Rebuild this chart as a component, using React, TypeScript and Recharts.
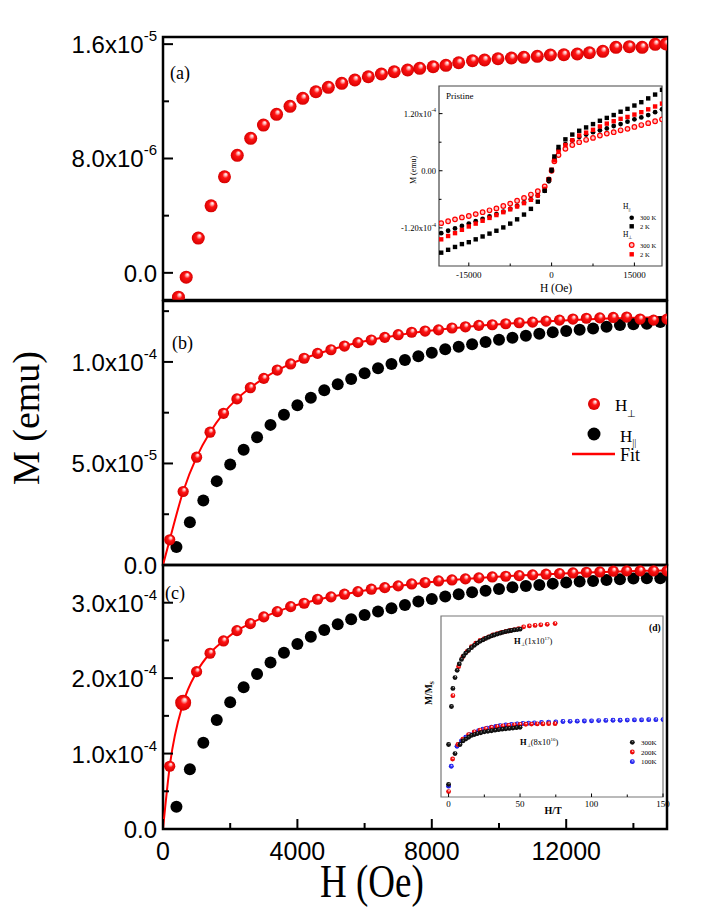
import React from 'react';
import { ScatterChart, Scatter, XAxis, YAxis, ReferenceArea } from 'recharts';

const SANS = '"Liberation Sans", Arial, sans-serif';
const SERIF = '"Liberation Serif", "Times New Roman", serif';

// ---- panel (a): pristine, H perpendicular ----
const aH = [460, 690, 1050, 1430, 1830, 2210, 2610, 2990, 3380, 3780, 4160, 4550, 4920, 5320, 5710, 6110, 6500, 6880, 7280, 7640,
  8040, 8420, 8800, 9210, 9570, 9970, 10370, 10740, 11140, 11530, 11930, 12330, 12690, 13090, 13480, 13880, 14260, 14650, 14970];
const aM = [-1.70e-6, -0.30e-6, 2.43e-6, 4.69e-6, 6.72e-6, 8.22e-6, 9.41e-6, 10.34e-6, 11.09e-6, 11.65e-6, 12.21e-6, 12.67e-6, 12.98e-6,
  13.26e-6, 13.49e-6, 13.72e-6, 13.91e-6, 14.07e-6, 14.19e-6, 14.31e-6, 14.42e-6, 14.52e-6, 14.70e-6, 14.84e-6, 14.89e-6, 14.98e-6,
  15.03e-6, 15.08e-6, 15.15e-6, 15.24e-6, 15.26e-6, 15.31e-6, 15.40e-6, 15.50e-6, 15.78e-6, 15.82e-6, 15.78e-6, 15.99e-6, 16.01e-6];
const aYTicks = [0, 4e-6, 8e-6, 1.2e-5, 1.6e-5];
const aYLabels = [['0.0'], null, ['8.0x10', '-6'], null, ['1.6x10', '-5']];

// ---- panel (b) ----
const bPerpH = [200, 600, 1000, 1400, 1800, 2200, 2600, 3000, 3400, 3800, 4200, 4600, 5000, 5400, 5800, 6200, 6600, 7000, 7400,
  7800, 8200, 8600, 9000, 9400, 9800, 10200, 10600, 11000, 11400, 11800, 12200, 12600, 13000, 13400, 13800, 14200, 14600, 15000];
const bPerpM = [1.24e-5, 3.62e-5, 5.31e-5, 6.54e-5, 7.47e-5, 8.18e-5, 8.73e-5, 9.19e-5, 9.60e-5, 9.90e-5, 1.018e-4, 1.042e-4,
  1.060e-4, 1.078e-4, 1.095e-4, 1.108e-4, 1.121e-4, 1.134e-4, 1.146e-4, 1.152e-4, 1.158e-4, 1.167e-4, 1.173e-4, 1.180e-4, 1.183e-4,
  1.188e-4, 1.193e-4, 1.196e-4, 1.201e-4, 1.206e-4, 1.211e-4, 1.215e-4, 1.217e-4, 1.219e-4, 1.221e-4, 1.211e-4, 1.206e-4, 1.211e-4];
const bParH = [400, 800, 1200, 1600, 2000, 2400, 2800, 3200, 3600, 4000, 4400, 4800, 5200, 5600, 6000, 6400, 6800, 7200, 7600,
  8000, 8400, 8800, 9200, 9600, 10000, 10400, 10800, 11200, 11600, 12000, 12400, 12800, 13200, 13600, 14000, 14400, 14800];
const bParM = [8.85e-6, 2.11e-5, 3.18e-5, 4.13e-5, 4.95e-5, 5.67e-5, 6.29e-5, 6.90e-5, 7.40e-5, 7.87e-5, 8.24e-5, 8.60e-5, 8.90e-5,
  9.16e-5, 9.44e-5, 9.69e-5, 9.90e-5, 1.009e-4, 1.028e-4, 1.045e-4, 1.062e-4, 1.075e-4, 1.087e-4, 1.098e-4, 1.109e-4, 1.119e-4,
  1.129e-4, 1.139e-4, 1.146e-4, 1.152e-4, 1.158e-4, 1.165e-4, 1.173e-4, 1.182e-4, 1.185e-4, 1.188e-4, 1.196e-4];
const fitH = [0, ...bPerpH];
const bFitM = [0, 1.24e-5, 3.62e-5, 5.31e-5, 6.54e-5, 7.47e-5, 8.18e-5, 8.73e-5, 9.19e-5, 9.58e-5, 9.90e-5, 1.017e-4, 1.040e-4,
  1.060e-4, 1.078e-4, 1.094e-4, 1.108e-4, 1.121e-4, 1.132e-4, 1.142e-4, 1.151e-4, 1.159e-4, 1.166e-4, 1.172e-4, 1.178e-4, 1.183e-4,
  1.188e-4, 1.192e-4, 1.196e-4, 1.200e-4, 1.203e-4, 1.206e-4, 1.209e-4, 1.212e-4, 1.214e-4, 1.216e-4, 1.218e-4, 1.220e-4, 1.222e-4];
const bYTicks = [0, 2.5e-5, 5e-5, 7.5e-5, 1e-4, 1.25e-4];
const bYLabels = [['0.0'], null, ['5.0x10', '-5'], null, ['1.0x10', '-4'], null];

// ---- panel (c) ----
const cPerpM = [8.32e-5, 1.675e-4, 2.086e-4, 2.330e-4, 2.493e-4, 2.630e-4, 2.723e-4, 2.812e-4, 2.882e-4, 2.948e-4, 2.993e-4,
  3.046e-4, 3.077e-4, 3.113e-4, 3.147e-4, 3.179e-4, 3.200e-4, 3.223e-4, 3.249e-4, 3.267e-4, 3.289e-4, 3.302e-4, 3.316e-4, 3.329e-4,
  3.342e-4, 3.351e-4, 3.359e-4, 3.369e-4, 3.378e-4, 3.386e-4, 3.395e-4, 3.404e-4, 3.408e-4, 3.418e-4, 3.422e-4, 3.422e-4, 3.422e-4, 3.422e-4];
const cParM = [2.96e-5, 7.92e-5, 1.145e-4, 1.446e-4, 1.680e-4, 1.879e-4, 2.056e-4, 2.206e-4, 2.338e-4, 2.454e-4, 2.550e-4, 2.639e-4,
  2.715e-4, 2.781e-4, 2.838e-4, 2.882e-4, 2.927e-4, 2.971e-4, 3.015e-4, 3.050e-4, 3.081e-4, 3.113e-4, 3.139e-4, 3.160e-4, 3.183e-4,
  3.206e-4, 3.223e-4, 3.236e-4, 3.253e-4, 3.267e-4, 3.280e-4, 3.289e-4, 3.302e-4, 3.312e-4, 3.320e-4, 3.325e-4, 3.325e-4];
const cFitM = [0, 8.3e-5, 1.67e-4, 2.08e-4, 2.33e-4, 2.493e-4, 2.63e-4, 2.723e-4, 2.81e-4, 2.882e-4, 2.945e-4, 2.995e-4, 3.04e-4,
  3.078e-4, 3.113e-4, 3.145e-4, 3.175e-4, 3.200e-4, 3.223e-4, 3.245e-4, 3.265e-4, 3.284e-4, 3.300e-4, 3.315e-4, 3.328e-4, 3.340e-4,
  3.351e-4, 3.360e-4, 3.369e-4, 3.377e-4, 3.385e-4, 3.393e-4, 3.400e-4, 3.406e-4, 3.412e-4, 3.417e-4, 3.421e-4, 3.425e-4, 3.428e-4];
const cYTicks = [0, 5e-5, 1e-4, 1.5e-4, 2e-4, 2.5e-4, 3e-4];
const cYLabels = [['0.0'], null, ['1.0x10', '-4'], null, ['2.0x10', '-4'], null, ['3.0x10', '-4']];
const xTicks = [0, 2000, 4000, 6000, 8000, 10000, 12000, 14000];
const xLabels = ['0', null, '4000', null, '8000', null, '12000', null];

// ---- inset of (a): pristine loops, M in units of 1e-4 emu ----
const loopH = [-20000, -18750, -17500, -16250, -15000, -13750, -12500, -11250, -10000, -8750, -7500, -6250, -5000, -3750, -2500,
  -1250, -500, 0, 500, 1250, 2500, 3750, 5000, 6250, 7500, 8750, 10000, 11250, 12500, 13750, 15000, 16250, 17500, 18750, 20000];
const par2K = [-1.72, -1.66, -1.60, -1.54, -1.50, -1.44, -1.38, -1.32, -1.26, -1.19, -1.11, -1.02, -0.92, -0.80, -0.65, -0.42, -0.18,
  0.02, 0.30, 0.50, 0.66, 0.76, 0.84, 0.91, 0.98, 1.05, 1.11, 1.17, 1.24, 1.30, 1.37, 1.44, 1.52, 1.60, 1.70];
const par300K = [-1.31, -1.26, -1.21, -1.16, -1.11, -1.06, -1.01, -0.96, -0.91, -0.86, -0.80, -0.74, -0.67, -0.60, -0.52, -0.42, -0.22,
  0.0, 0.25, 0.44, 0.56, 0.64, 0.71, 0.76, 0.81, 0.85, 0.89, 0.94, 0.98, 1.03, 1.08, 1.12, 1.17, 1.23, 1.29];
const perp2K = [-1.44, -1.37, -1.31, -1.24, -1.17, -1.11, -1.05, -0.99, -0.93, -0.87, -0.81, -0.75, -0.68, -0.61, -0.52, -0.38, -0.18,
  0.02, 0.22, 0.40, 0.54, 0.64, 0.74, 0.80, 0.86, 0.93, 0.99, 1.04, 1.09, 1.13, 1.18, 1.23, 1.29, 1.35, 1.41];
const perp300K = [-1.10, -1.06, -1.02, -0.98, -0.95, -0.91, -0.87, -0.83, -0.79, -0.74, -0.69, -0.63, -0.57, -0.50, -0.43, -0.33, -0.18,
  0.0, 0.20, 0.33, 0.46, 0.54, 0.60, 0.65, 0.69, 0.74, 0.78, 0.81, 0.85, 0.88, 0.92, 0.96, 1.00, 1.04, 1.08];
const loopXTicks = [-15000, -7500, 0, 7500, 15000];
const loopXLabels = ['-15000', null, '0', null, '15000'];
const loopYTicks = [-1.2, -0.6, 0, 0.6, 1.2];
const loopYLabels = [['-1.20x10', '-4'], null, ['0.00'], null, ['1.20x10', '-4']];

// ---- inset (d): M/Ms vs H/T ----
const upBlackX = [2, 3, 4.5, 6, 7.5, 9, 10.5, 12, 14, 16, 18, 20, 22, 24, 26, 28, 30, 32, 34, 36, 38, 40, 42, 44, 46, 48, 50];
const upBlackY = [0.50, 0.60, 0.66, 0.70, 0.735, 0.76, 0.78, 0.795, 0.81, 0.825, 0.838, 0.85, 0.86, 0.868, 0.876, 0.883, 0.89, 0.895,
  0.90, 0.905, 0.91, 0.914, 0.917, 0.92, 0.923, 0.925, 0.927];
const upRedX = [3, 7, 10, 13, 16, 19, 22, 25, 28, 31, 34, 37, 40, 43, 46, 49, 52.5, 56.5, 60.5, 64.5, 69, 74.5];
const upRedY = [0.56, 0.72, 0.775, 0.805, 0.83, 0.85, 0.865, 0.875, 0.885, 0.895, 0.903, 0.91, 0.915, 0.92, 0.925, 0.93, 0.94, 0.945,
  0.948, 0.951, 0.954, 0.958];
const lowBlackX = [0, 0, 4.5, 8, 10, 12, 14, 16, 18, 20, 22.5, 25, 27.5, 30, 32.5, 35, 37.5, 40, 42.5, 45, 47.5, 50];
const lowBlackY = [0.29, 0.07, 0.24, 0.29, 0.31, 0.32, 0.33, 0.34, 0.345, 0.35, 0.355, 0.36, 0.363, 0.366, 0.369, 0.372, 0.375, 0.377,
  0.379, 0.381, 0.383, 0.385];
const lowRedX = [0, 2.8, 6.5, 10, 14, 18, 22, 26, 30, 34, 38, 42, 46, 50, 54, 58, 62, 66, 70, 74.5];
const lowRedY = [0.03, 0.21, 0.29, 0.32, 0.345, 0.36, 0.37, 0.378, 0.384, 0.389, 0.393, 0.396, 0.399, 0.401, 0.402, 0.403, 0.404,
  0.404, 0.405, 0.405];
const lowBlueX = [0, 1.9, 5.9, 9, 12, 15, 18, 21, 24, 27, 30, 33, 36, 40, 44, 48, 52, 56, 60, 65, 70, 75, 80, 85, 90, 95, 100, 105,
  110, 115, 120, 125, 130, 135, 140, 145, 150];
const lowBlueY = [0.06, 0.17, 0.28, 0.31, 0.33, 0.345, 0.358, 0.367, 0.375, 0.381, 0.386, 0.39, 0.394, 0.398, 0.401, 0.404, 0.406,
  0.408, 0.41, 0.412, 0.414, 0.415, 0.417, 0.418, 0.419, 0.42, 0.421, 0.422, 0.423, 0.424, 0.424, 0.425, 0.426, 0.426, 0.427, 0.427, 0.428];
const dXTicks = [0, 25, 50, 75, 100, 125, 150];
const dXLabels = ['0', null, '50', null, '100', null, '150'];

type Pt = { x: number; y: number };
const pts = (xs: number[], ys: number[]): Pt[] => xs.map((x, i) => ({ x, y: ys[i] }));

const ball = (r: number, id: string) => (p: any) => <circle cx={p.cx} cy={p.cy} r={r} fill={`url(#${id})`} />;
const dot = (r: number, fill: string) => (p: any) => <circle cx={p.cx} cy={p.cy} r={r} fill={fill} />;
const square = (s: number, fill: string) => (p: any) => <rect x={p.cx - s / 2} y={p.cy - s / 2} width={s} height={s} fill={fill} />;
const ring = (p: any) => <circle cx={p.cx} cy={p.cy} r={2.3} fill="#ffc4c4" stroke="#f00" strokeWidth={1.2} />;
const noShape = () => <g />;

function yTick(axisX: number, ticks: number[], labels: (string[] | null)[], o: { major: number; minor: number; font: string; size: number; sup: number; gap: number; dy: number; sw: number }) {
  return (p: any) => {
    const lab = labels[ticks.indexOf(p.payload.value)];
    const y = p.y;
    return (
      <g>
        <line x1={axisX} x2={axisX + (lab ? o.major : o.minor)} y1={y} y2={y} stroke="#000" strokeWidth={o.sw} />
        {lab && (
          <text x={axisX - o.gap} y={y + o.dy} textAnchor="end" fontFamily={o.font} fontSize={o.size} fill="#000">
            {lab[0]}
            {lab[1] && <tspan dy={-o.size * 0.5} fontSize={o.sup}>{lab[1]}</tspan>}
          </text>
        )}
      </g>
    );
  };
}

function xTick(axisY: number, ticks: number[], labels: (string | null)[], o: { major: number; minor: number; font: string; size: number; base: number; sw: number }) {
  return (p: any) => {
    const lab = labels[ticks.indexOf(p.payload.value)];
    return (
      <g>
        <line x1={p.x} x2={p.x} y1={axisY} y2={axisY - (lab ? o.major : o.minor)} stroke="#000" strokeWidth={o.sw} />
        {lab && (
          <text x={p.x} y={o.base} textAnchor="middle" fontFamily={o.font} fontSize={o.size} fill="#000">{lab}</text>
        )}
      </g>
    );
  };
}

const mainY = { major: 10, minor: 6, font: SANS, size: 24, sup: 15, gap: 6, dy: 9, sw: 2 };
const PL = 163;

function Panel({ top, bottom, yDomain, yTicks, yLabels, showX, children }: any) {
  return (
    <div style={{ position: 'absolute', left: 0, top: 0 }}>
      <ScatterChart width={706} height={913} margin={{ top, right: 39, left: 0, bottom: showX ? 913 - bottom - 40 : 913 - bottom }}>
        <XAxis type="number" dataKey="x" domain={[0, 15000]} allowDataOverflow hide={!showX} ticks={xTicks} interval={0}
          tick={xTick(bottom, xTicks, xLabels, { major: 10, minor: 6, font: SANS, size: 25, base: 860, sw: 2 })}
          tickLine={false} axisLine={false} height={40} />
        <YAxis type="number" dataKey="y" domain={yDomain} allowDataOverflow ticks={yTicks} interval={0}
          tick={yTick(PL, yTicks, yLabels, mainY)} tickLine={false} axisLine={false} width={PL} />
        <ReferenceArea x1={0} x2={15000} y1={yDomain[0]} y2={yDomain[1]} fill="none" stroke="#000" strokeWidth={2.5} ifOverflow="visible" />
        {children}
      </ScatterChart>
    </div>
  );
}

export default function App() {
  const cBig = pts(bPerpH, cPerpM).slice(1, 2);
  return (
    <div style={{ position: 'absolute', left: 0, top: 0, width: 706, height: 913, background: '#fff', overflow: 'hidden' }}>
      <svg width={0} height={0} style={{ position: 'absolute' }}>
        <defs>
          <radialGradient id="ballRed" cx="0.5" cy="0.5" r="0.5" fx="0.62" fy="0.28">
            <stop offset="0" stopColor="#ffffff" />
            <stop offset="0.2" stopColor="#ffb3b3" />
            <stop offset="0.45" stopColor="#ff1414" />
            <stop offset="1" stopColor="#d60000" />
          </radialGradient>
          <radialGradient id="ballBlack" cx="0.5" cy="0.5" r="0.5" fx="0.62" fy="0.28">
            <stop offset="0" stopColor="#bbbbbb" />
            <stop offset="0.35" stopColor="#222222" />
            <stop offset="1" stopColor="#000000" />
          </radialGradient>
          <radialGradient id="ballBlue" cx="0.5" cy="0.5" r="0.5" fx="0.62" fy="0.28">
            <stop offset="0" stopColor="#ffffff" />
            <stop offset="0.3" stopColor="#5a5aff" />
            <stop offset="1" stopColor="#0000e0" />
          </radialGradient>
        </defs>
      </svg>

      <Panel top={37} bottom={300} yDomain={[-1.9e-6, 1.65e-5]} yTicks={aYTicks} yLabels={aYLabels}>
        <Scatter data={pts(aH, aM)} shape={ball(6.5, 'ballRed')} isAnimationActive={false} />
      </Panel>

      <Panel top={301} bottom={565} yDomain={[0, 1.3e-4]} yTicks={bYTicks} yLabels={bYLabels}>
        <Scatter data={pts(fitH, bFitM)} line={{ stroke: '#f00', strokeWidth: 2 }} lineJointType="monotoneX" shape={noShape} isAnimationActive={false} />
        <Scatter data={pts(bParH, bParM)} shape={dot(6, '#000')} isAnimationActive={false} />
        <Scatter data={pts(bPerpH, bPerpM)} shape={ball(5.6, 'ballRed')} isAnimationActive={false} />
      </Panel>

      <Panel top={565} bottom={829} yDomain={[0, 3.5e-4]} yTicks={cYTicks} yLabels={cYLabels} showX>
        <Scatter data={pts(fitH, cFitM)} line={{ stroke: '#f00', strokeWidth: 2 }} lineJointType="monotoneX" shape={noShape} isAnimationActive={false} />
        <Scatter data={pts(bParH, cParM)} shape={dot(6, '#000')} isAnimationActive={false} />
        <Scatter data={pts(bPerpH, cPerpM)} shape={ball(5.6, 'ballRed')} isAnimationActive={false} />
        <Scatter data={cBig} shape={ball(8, 'ballRed')} isAnimationActive={false} />
      </Panel>

      {/* inset of panel (a) */}
      <div style={{ position: 'absolute', left: 439, top: 86, width: 223, height: 180, background: '#fff' }} />
      <div style={{ position: 'absolute', left: 0, top: 0 }}>
        <ScatterChart width={706} height={913} margin={{ top: 86, right: 44, left: 379, bottom: 617 }}>
          <XAxis type="number" dataKey="x" domain={[-20400, 20000]} allowDataOverflow ticks={loopXTicks} interval={0}
            tick={xTick(266, loopXTicks, loopXLabels, { major: 3.5, minor: 2.5, font: SERIF, size: 9, base: 277.5, sw: 1 })}
            tickLine={false} axisLine={false} height={30} />
          <YAxis type="number" dataKey="y" domain={[-2.0, 1.78]} allowDataOverflow ticks={loopYTicks} interval={0}
            tick={yTick(439, loopYTicks, loopYLabels, { major: 3.5, minor: 2.5, font: SERIF, size: 8.5, sup: 5.5, gap: 3, dy: 3, sw: 1 })}
            tickLine={false} axisLine={false} width={60} />
          <ReferenceArea x1={-20400} x2={20000} y1={-2.0} y2={1.78} fill="none" stroke="#444" strokeWidth={1.2} ifOverflow="visible" />
          <Scatter data={pts(loopH, perp300K)} shape={ring} isAnimationActive={false} />
          <Scatter data={pts(loopH, par300K)} shape={dot(2.4, '#000')} isAnimationActive={false} />
          <Scatter data={pts(loopH, perp2K)} shape={square(4.4, '#f00')} isAnimationActive={false} />
          <Scatter data={pts(loopH, par2K)} shape={square(4.4, '#000')} isAnimationActive={false} />
        </ScatterChart>
      </div>

      {/* inset (d) */}
      <div style={{ position: 'absolute', left: 441, top: 616, width: 222, height: 181, background: '#fff' }} />
      <div style={{ position: 'absolute', left: 0, top: 0 }}>
        <ScatterChart width={706} height={913} margin={{ top: 616, right: 43, left: 421, bottom: 96 }}>
          <XAxis type="number" dataKey="x" domain={[-5.3, 150]} allowDataOverflow ticks={dXTicks} interval={0}
            tick={xTick(797, dXTicks, dXLabels, { major: 3.5, minor: 2.5, font: SERIF, size: 9, base: 806.5, sw: 1 })}
            tickLine={false} axisLine={false} height={20} />
          <YAxis type="number" dataKey="y" domain={[0, 1]} allowDataOverflow tick={false} tickLine={false} axisLine={false} width={20} />
          <ReferenceArea x1={-5.3} x2={150} y1={0} y2={1} fill="none" stroke="#777" strokeWidth={1.2} ifOverflow="visible" />
          <Scatter data={pts(upRedX, upRedY)} shape={ball(2.4, 'ballRed')} isAnimationActive={false} />
          <Scatter data={pts(upBlackX, upBlackY)} shape={ball(2.4, 'ballBlack')} isAnimationActive={false} />
          <Scatter data={pts(lowBlueX, lowBlueY)} shape={ball(2.4, 'ballBlue')} isAnimationActive={false} />
          <Scatter data={pts(lowRedX, lowRedY)} shape={ball(2.4, 'ballRed')} isAnimationActive={false} />
          <Scatter data={pts(lowBlackX, lowBlackY)} shape={ball(2.4, 'ballBlack')} isAnimationActive={false} />
        </ScatterChart>
      </div>

      {/* titles, panel tags, legends */}
      <svg width={706} height={913} style={{ position: 'absolute', left: 0, top: 0, pointerEvents: 'none' }}>
        <g fontFamily={SERIF} fill="#000">
          <text x={170} y={79} fontSize={18}>(a)</text>
          <text x={172} y={349} fontSize={18}>(b)</text>
          <text x={165} y={599} fontSize={18}>(c)</text>
          <text transform="translate(39,418) rotate(-90)" textAnchor="middle" fontSize={38}>M (emu)</text>
          <text transform="translate(320,897) scale(1,1.25)" fontSize={37}>H (Oe)</text>

          {/* legend (b) */}
          <circle cx={594} cy={404} r={6} fill="url(#ballRed)" />
          <text x={615} y={411} fontSize={17}>H<tspan dy={6} fontSize={10}>⊥</tspan></text>
          <circle cx={594} cy={434} r={6.5} fill="#000" />
          <text x={620} y={442} fontSize={17}>H<tspan dy={4} fontSize={10}>||</tspan></text>
          <line x1={572} x2={615} y1={454} y2={454} stroke="#f00" strokeWidth={2.5} />
          <text x={620} y={461} fontSize={18}>Fit</text>

          {/* inset (a) texts */}
          <text x={446} y={99} fontSize={9}>Pristine</text>
          <text transform="translate(416,170) rotate(-90)" textAnchor="middle" fontSize={8}>M (emu)</text>
          <text x={556} y={292} textAnchor="middle" fontSize={11.5}>H (Oe)</text>
          <text x={623} y={209} fontSize={7.5}>H<tspan dy={2} fontSize={5}>||</tspan></text>
          <circle cx={631.7} cy={217.7} r={2.3} fill="#000" />
          <text x={640} y={220.3} fontSize={6.5}>300 K</text>
          <rect x={629.5} y={224.1} width={4.4} height={4.4} fill="#000" />
          <text x={640} y={228.8} fontSize={6.5}>2 K</text>
          <text x={623} y={236.5} fontSize={7.5}>H<tspan dy={2} fontSize={5}>⊥</tspan></text>
          <circle cx={631.7} cy={245} r={2.3} fill="#ffc4c4" stroke="#f00" strokeWidth={1.2} />
          <text x={640} y={247.6} fontSize={6.5}>300 K</text>
          <rect x={629.5} y={252.1} width={4.4} height={4.4} fill="#f00" />
          <text x={640} y={256.9} fontSize={6.5}>2 K</text>

          {/* inset (d) texts */}
          <text x={649} y={631} fontSize={9.5} fontWeight="bold">(d)</text>
          <text x={553} y={814} textAnchor="middle" fontSize={10} fontWeight="bold">H/T</text>
          <text transform="translate(432,693) rotate(-90)" textAnchor="middle" fontSize={9.5} fontWeight="bold">M/M<tspan dy={2} fontSize={6}>S</tspan></text>
          <text x={514} y={644} fontSize={8.5}><tspan fontWeight="bold">H</tspan><tspan dy={2} fontSize={5}>⊥</tspan><tspan dy={-2}>(1x10</tspan><tspan dy={-4} fontSize={5}>17</tspan><tspan dy={4}>)</tspan></text>
          <text x={520} y={745} fontSize={8.5}><tspan fontWeight="bold">H</tspan><tspan dy={2} fontSize={5}>⊥</tspan><tspan dy={-2}>(8x10</tspan><tspan dy={-4} fontSize={5}>16</tspan><tspan dy={4}>)</tspan></text>
          <circle cx={632.3} cy={742.3} r={2.4} fill="url(#ballBlack)" />
          <text x={641} y={745} fontSize={7}>300K</text>
          <circle cx={632.3} cy={752} r={2.4} fill="url(#ballRed)" />
          <text x={641} y={754.7} fontSize={7}>200K</text>
          <circle cx={632.3} cy={761.7} r={2.4} fill="url(#ballBlue)" />
          <text x={641} y={764.4} fontSize={7}>100K</text>
        </g>
      </svg>
    </div>
  );
}
